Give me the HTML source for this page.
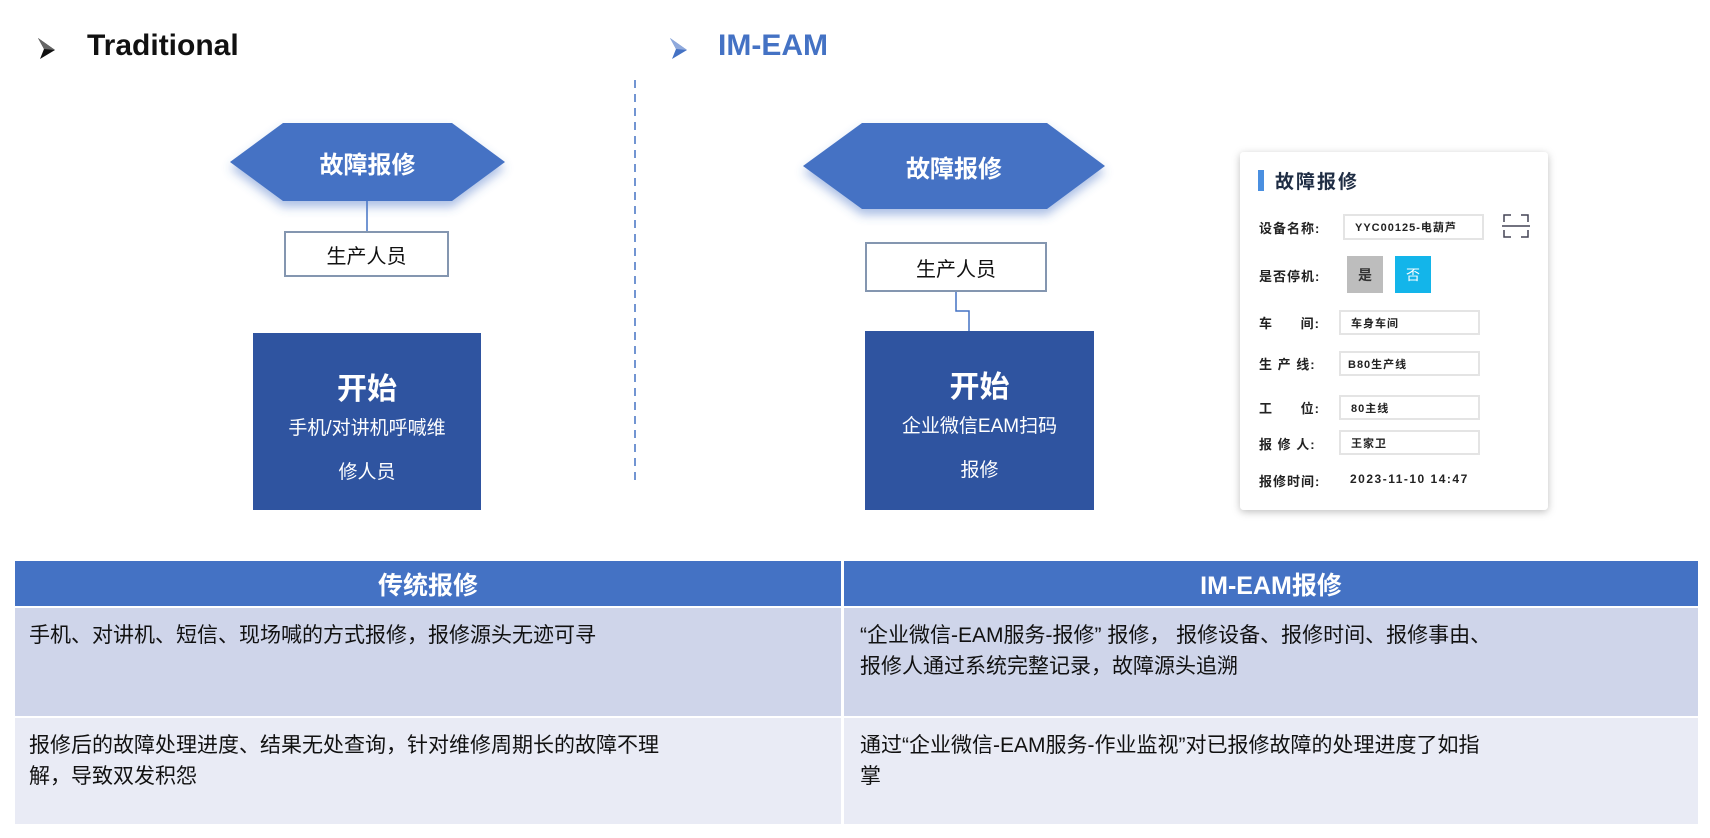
<!DOCTYPE html>
<html><head><meta charset="utf-8"><style>
*{margin:0;padding:0;box-sizing:border-box}
body{width:1710px;height:838px;background:#fff;position:relative;overflow:hidden;font-family:"Liberation Sans","Noto Sans CJK SC",sans-serif}
.a{position:absolute}
.c{display:flex;align-items:center;justify-content:center;text-align:center}
.lbl{position:absolute;left:1259px;font-size:13px;color:#222;font-weight:bold;letter-spacing:1px}
.inp{position:absolute;border:2px solid #e4e4e4;background:#fff;font-size:11px;color:#222;font-weight:bold;padding-left:10px;display:flex;align-items:center;letter-spacing:1px}
</style></head><body>
<svg class="a" style="left:0;top:0" width="1710" height="838">
<defs><filter id="sh" x="-20%" y="-20%" width="140%" height="160%"><feDropShadow dx="0" dy="6" stdDeviation="5" flood-color="#4472c4" flood-opacity="0.45"/></filter>
<filter id="cs" x="-10%" y="-10%" width="120%" height="120%"><feDropShadow dx="0" dy="2" stdDeviation="4" flood-color="#000" flood-opacity="0.25"/></filter></defs>
<polygon points="38,38 55,50 40,59 44,49" fill="#111"/>
<polygon points="38,38 55,50 44,49" fill="#666"/>
<polygon points="670,38 687,50 672,59 676,49" fill="#4472c4"/>
<polygon points="670,38 687,50 676,49" fill="#8fa9dc"/>
<line x1="635" y1="80" x2="635" y2="480" stroke="#4472c4" stroke-width="1.5" stroke-dasharray="8,6"/>
<polygon points="230,162 283,123 452,123 505,162 452,201 283,201" fill="#4472c4" filter="url(#sh)"/>
<line x1="367" y1="201" x2="367" y2="231" stroke="#4472c4" stroke-width="1.5"/>
<polygon points="803,166 862,123 1047,123 1105,166 1047,209 862,209" fill="#4472c4" filter="url(#sh)"/>
<polyline points="956,292 956,311 969,311 969,331" fill="none" stroke="#4472c4" stroke-width="1.5"/>
<rect x="1240" y="152" width="308" height="358" rx="4" fill="#fff" filter="url(#cs)"/>
<rect x="1258" y="170" width="6" height="21" fill="#4a8fe0"/>
<path d="M1504 222v-7h7 M1521 215h7v7 M1504 230v7h7 M1521 237h7v-7 M1502 226h28" fill="none" stroke="#445" stroke-width="1.5"/>
</svg>
<div class="a" style="left:87px;top:29px;font-size:30px;font-weight:bold;color:#111">Traditional</div>
<div class="a" style="left:718px;top:29px;font-size:30px;font-weight:bold;color:#4472c4">IM-EAM</div>
<div class="a c" style="left:230px;top:123px;width:275px;height:78px;color:#fff;font-size:24px;font-weight:bold">故障报修</div>
<div class="a c" style="left:803px;top:123px;width:302px;height:86px;color:#fff;font-size:24px;font-weight:bold">故障报修</div>
<div class="a c" style="left:284px;top:231px;width:165px;height:46px;border:2px solid #8496b0;font-size:20px;color:#111">生产人员</div>
<div class="a c" style="left:865px;top:242px;width:182px;height:50px;border:2px solid #8496b0;font-size:20px;color:#111">生产人员</div>
<div class="a" style="left:253px;top:333px;width:228px;height:177px;background:#2f54a0;color:#fff;text-align:center">
<div style="font-size:30px;font-weight:bold;margin-top:38px;line-height:38px">开始</div>
<div style="font-size:19px;line-height:44px;margin-top:-2px">手机/对讲机呼喊维<br>修人员</div></div>
<div class="a" style="left:865px;top:331px;width:229px;height:179px;background:#2f54a0;color:#fff;text-align:center">
<div style="font-size:30px;font-weight:bold;margin-top:38px;line-height:38px">开始</div>
<div style="font-size:19px;line-height:44px;margin-top:-2px">企业微信EAM扫码<br>报修</div></div>
<div class="a" style="left:1275px;top:167px;font-size:19px;font-weight:bold;color:#1f2d44;letter-spacing:2px">故障报修</div>
<div class="lbl" style="top:218px">设备名称:</div>
<div class="inp" style="left:1343px;top:214px;width:141px;height:26px">YYC00125-电葫芦</div>
<div class="lbl" style="top:266px">是否停机:</div>
<div class="a c" style="left:1347px;top:256px;width:36px;height:37px;background:#bdbdbd;font-size:14px;font-weight:bold;color:#333">是</div>
<div class="a c" style="left:1395px;top:256px;width:36px;height:37px;background:#13b5ea;font-size:14px;color:#fff">否</div>
<div class="lbl" style="top:313px">车&nbsp;&nbsp;&nbsp;&nbsp;&nbsp;&nbsp;间:</div>
<div class="inp" style="left:1339px;top:310px;width:141px;height:25px">车身车间</div>
<div class="lbl" style="top:354px">生&nbsp;产&nbsp;线:</div>
<div class="inp" style="left:1339px;top:351px;width:141px;height:25px;padding-left:7px">B80生产线</div>
<div class="lbl" style="top:398px">工&nbsp;&nbsp;&nbsp;&nbsp;&nbsp;&nbsp;位:</div>
<div class="inp" style="left:1339px;top:395px;width:141px;height:25px">80主线</div>
<div class="lbl" style="top:434px">报&nbsp;修&nbsp;人:</div>
<div class="inp" style="left:1339px;top:430px;width:141px;height:25px">王家卫</div>
<div class="lbl" style="top:471px">报修时间:</div>
<div class="a" style="left:1350px;top:472px;font-size:12px;font-weight:bold;color:#222;letter-spacing:1.5px">2023-11-10 14:47</div>
<div class="a c" style="left:15px;top:561px;width:826px;height:45px;background:#4472c4;color:#fff;font-size:25px;font-weight:bold">传统报修</div>
<div class="a c" style="left:844px;top:561px;width:854px;height:45px;background:#4472c4;color:#fff;font-size:25px;font-weight:bold">IM-EAM报修</div>
<div class="a" style="left:15px;top:608px;width:826px;height:108px;background:#cfd5ea;font-size:21px;color:#111;padding:12px 0 0 14px;line-height:31px">手机、对讲机、短信、现场喊的方式报修，报修源头无迹可寻</div>
<div class="a" style="left:844px;top:608px;width:854px;height:108px;background:#cfd5ea;font-size:21px;color:#111;padding:12px 0 0 16px;line-height:31px">“企业微信-EAM服务-报修” 报修， 报修设备、报修时间、报修事由、<br>报修人通过系统完整记录，故障源头追溯</div>
<div class="a" style="left:15px;top:718px;width:826px;height:106px;background:#e9ebf5;font-size:21px;color:#111;padding:12px 0 0 14px;line-height:31px">报修后的故障处理进度、结果无处查询，针对维修周期长的故障不理<br>解，导致双发积怨</div>
<div class="a" style="left:844px;top:718px;width:854px;height:106px;background:#e9ebf5;font-size:21px;color:#111;padding:12px 0 0 16px;line-height:31px">通过“企业微信-EAM服务-作业监视”对已报修故障的处理进度了如指<br>掌</div>
</body></html>
